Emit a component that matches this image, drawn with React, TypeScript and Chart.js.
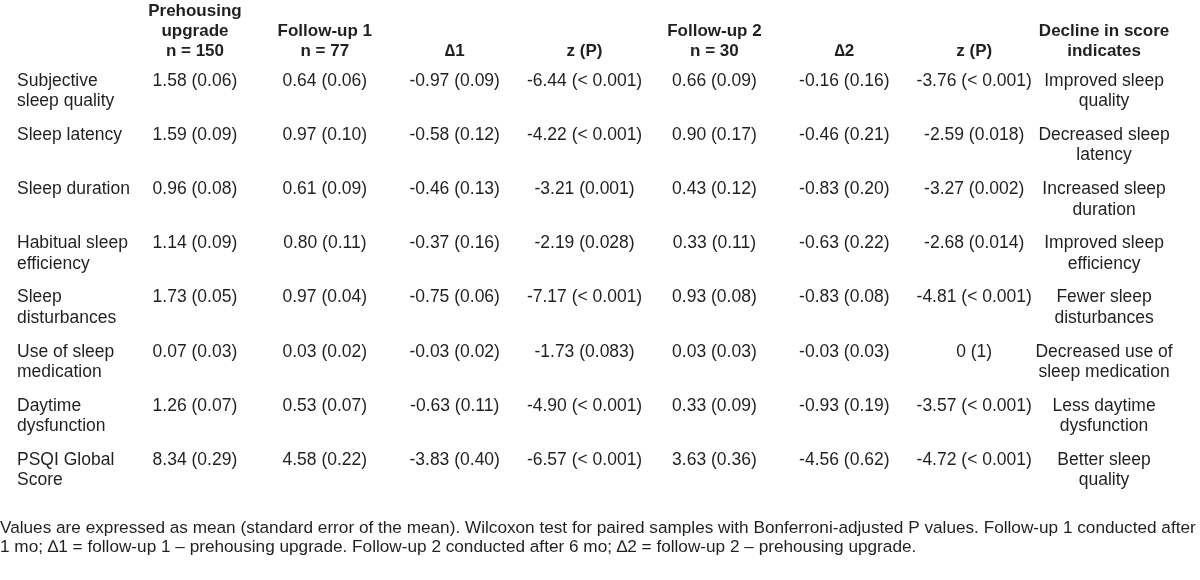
import React, { useEffect, useRef } from "react";
import { Chart, registerables } from "chart.js";

Chart.register(...registerables);

const columnKeys = ["pre", "fu1", "d1", "z1", "fu2", "d2", "z2", "decline"];
const columnHeaders = [
  ["Prehousing", "upgrade", "n = 150"],
  ["Follow-up 1", "n = 77"],
  ["\u22061"],
  ["z (P)"],
  ["Follow-up 2", "n = 30"],
  ["\u22062"],
  ["z (P)"],
  ["Decline in score", "indicates"],
];
const rowLabels = [
  ["Subjective", "sleep quality"],
  ["Sleep latency"],
  ["Sleep duration"],
  ["Habitual sleep", "efficiency"],
  ["Sleep", "disturbances"],
  ["Use of sleep", "medication"],
  ["Daytime", "dysfunction"],
  ["PSQI Global", "Score"],
];
const prehousing = ["1.58 (0.06)", "1.59 (0.09)", "0.96 (0.08)", "1.14 (0.09)", "1.73 (0.05)", "0.07 (0.03)", "1.26 (0.07)", "8.34 (0.29)"];
const followUp1 = ["0.64 (0.06)", "0.97 (0.10)", "0.61 (0.09)", "0.80 (0.11)", "0.97 (0.04)", "0.03 (0.02)", "0.53 (0.07)", "4.58 (0.22)"];
const delta1 = ["-0.97 (0.09)", "-0.58 (0.12)", "-0.46 (0.13)", "-0.37 (0.16)", "-0.75 (0.06)", "-0.03 (0.02)", "-0.63 (0.11)", "-3.83 (0.40)"];
const zP1 = ["-6.44 (< 0.001)", "-4.22 (< 0.001)", "-3.21 (0.001)", "-2.19 (0.028)", "-7.17 (< 0.001)", "-1.73 (0.083)", "-4.90 (< 0.001)", "-6.57 (< 0.001)"];
const followUp2 = ["0.66 (0.09)", "0.90 (0.17)", "0.43 (0.12)", "0.33 (0.11)", "0.93 (0.08)", "0.03 (0.03)", "0.33 (0.09)", "3.63 (0.36)"];
const delta2 = ["-0.16 (0.16)", "-0.46 (0.21)", "-0.83 (0.20)", "-0.63 (0.22)", "-0.83 (0.08)", "-0.03 (0.03)", "-0.93 (0.19)", "-4.56 (0.62)"];
const zP2 = ["-3.76 (< 0.001)", "-2.59 (0.018)", "-3.27 (0.002)", "-2.68 (0.014)", "-4.81 (< 0.001)", "0 (1)", "-3.57 (< 0.001)", "-4.72 (< 0.001)"];
const declineIndicates = [
  ["Improved sleep", "quality"],
  ["Decreased sleep", "latency"],
  ["Increased sleep", "duration"],
  ["Improved sleep", "efficiency"],
  ["Fewer sleep", "disturbances"],
  ["Decreased use of", "sleep medication"],
  ["Less daytime", "dysfunction"],
  ["Better sleep", "quality"],
];
const footnote = [
  "Values are expressed as mean (standard error of the mean). Wilcoxon test for paired samples with Bonferroni-adjusted P values. Follow-up 1 conducted after",
  "1 mo; \u22061 = follow-up 1 \u2013 prehousing upgrade. Follow-up 2 conducted after 6 mo; \u22062 = follow-up 2 \u2013 prehousing upgrade.",
];

const FONT = "'Liberation Sans', Arial, Helvetica, sans-serif";
const TEXT_COLOR = "#231f20";
const BODY_SIZE = 17.5;
const BODY_LINE = 20.5;

const rowKeys = rowLabels.map((l) => l.join(" "));
const columnCells: (string | string[])[][] = [prehousing, followUp1, delta1, zP1, followUp2, delta2, zP2, declineIndicates];

const tableTextPlugin = {
  id: "tableText",
  afterDatasetsDraw(chart: any) {
    const ctx = chart.ctx;
    ctx.save();
    ctx.fillStyle = TEXT_COLOR;
    ctx.font = `${BODY_SIZE}px ${FONT}`;
    ctx.textBaseline = "middle";
    // row labels
    const yScale = chart.scales.y;
    ctx.textAlign = "left";
    rowLabels.forEach((lines, i) => {
      const y = yScale.getPixelForValue(i);
      lines.forEach((line, j) => ctx.fillText(line, 17, y + j * BODY_LINE));
    });
    // cells
    ctx.textAlign = "center";
    chart.data.datasets.forEach((ds: any, di: number) => {
      const meta = chart.getDatasetMeta(di);
      meta.data.forEach((el: any, ri: number) => {
        const cell = columnCells[di][ri];
        const lines = Array.isArray(cell) ? cell : [cell];
        lines.forEach((line, j) => ctx.fillText(line, el.x, el.y + j * BODY_LINE));
      });
    });
    ctx.restore();
  },
};

export default function App() {
  const canvasRef = useRef<HTMLCanvasElement | null>(null);

  useEffect(() => {
    document.body.style.margin = "0";
    const canvas = canvasRef.current;
    if (!canvas) return;
    const chart = new Chart(canvas, {
      type: "scatter",
      data: {
        datasets: columnKeys.map((ck) => ({
          label: ck,
          data: rowKeys.map((rk) => ({ x: ck, y: rk })),
          pointRadius: 0,
          pointHoverRadius: 0,
          showLine: false,
        })),
      },
      options: {
        animation: false,
        responsive: true,
        maintainAspectRatio: false,
        layout: { padding: 0 },
        plugins: {
          legend: { display: false },
          tooltip: { enabled: false },
          title: {
            display: true,
            position: "bottom",
            align: "start",
            text: footnote,
            color: TEXT_COLOR,
            font: { family: FONT, size: 17.2, weight: "normal", lineHeight: "19px" },
            padding: { top: 58.5, bottom: 23.5 },
          },
        },
        scales: {
          x: {
            type: "category",
            labels: columnKeys,
            position: "top",
            offset: true,
            grid: { display: false, drawTicks: false },
            border: { display: false },
            ticks: {
              autoSkip: false,
              maxRotation: 0,
              minRotation: 0,
              padding: 20,
              color: TEXT_COLOR,
              font: { family: FONT, size: 17, weight: "bold", lineHeight: "20px" },
              callback: (_v: any, i: number) => columnHeaders[i],
            },
            afterFit: (s: any) => {
              s.height = 81;
            },
          },
          y: {
            type: "category",
            labels: rowKeys,
            position: "left",
            offset: false,
            grid: { display: false, drawTicks: false },
            border: { display: false },
            ticks: { display: false },
            afterFit: (s: any) => {
              s.width = 130;
            },
          },
          rpad: {
            type: "linear",
            position: "right",
            display: true,
            grid: { display: false, drawTicks: false },
            border: { display: false },
            ticks: { display: false },
            afterFit: (s: any) => {
              s.width = 31;
            },
          },
        },
      } as any,
      plugins: [tableTextPlugin],
    });
    return () => chart.destroy();
  }, []);

  return (
    <div style={{ position: "relative", width: 1200, height: 580, background: "#ffffff" }}>
      <canvas ref={canvasRef} />
    </div>
  );
}
